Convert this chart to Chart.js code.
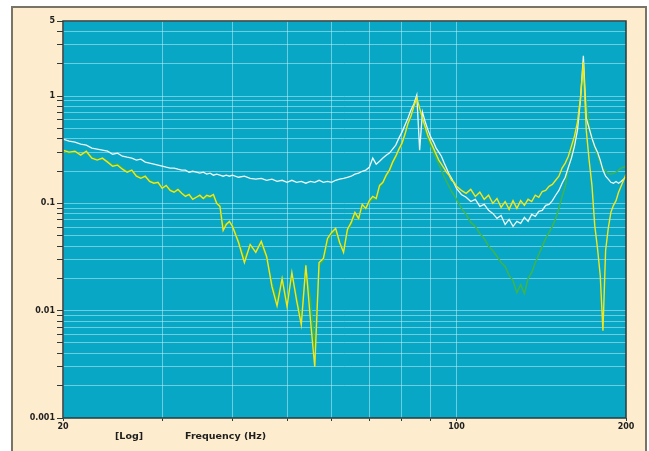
<!DOCTYPE html>
<html>
<head>
<meta charset="utf-8">
<script src="https://cdn.jsdelivr.net/npm/chart.js@4"></script>
<style>
  html, body { margin: 0; padding: 0; background: #fff; }
  #wrap { position: relative; width: 649px; height: 451px; overflow: hidden; }
  #frame { position: absolute; left: 11px; top: 6px; width: 632px; height: 460px; background: #fdeccd; border: 2px solid #7a7468; }
  #chart { position: absolute; left: 0; top: 0; }
</style>
</head>
<body>
<div id="wrap">
  <div id="frame"></div>
  <canvas id="chart" width="649" height="451"></canvas>
</div>
<script>
// frequency axis (Hz), shared by the three traces
const freqHz = [
  20, 20.5, 21, 21.5, 22, 22.5, 23, 23.5, 24, 24.5,
  25, 25.5, 26, 26.5, 27, 27.5, 28, 28.5, 29, 29.5,
  30, 30.5, 31, 31.5, 32, 32.5, 33, 33.5, 34, 34.5,
  35, 35.5, 36, 36.5, 37, 37.5, 38, 38.5, 39, 39.5,
  40, 41, 42, 43, 44, 45, 46, 47, 48, 49,
  50, 51, 52, 53, 54, 55, 56, 57, 58, 59,
  60, 61, 62, 63, 64, 65, 66, 67, 68, 69,
  70, 71, 72, 73, 74, 75, 76, 77, 78, 79,
  80, 81, 82, 83, 84, 85, 86, 87, 88, 89,
  90, 91, 92, 93, 94, 95, 96, 97, 98, 99,
  100, 102, 104, 106, 108, 110, 112, 114, 116, 118,
  120, 122, 124, 126, 128, 130, 132, 134, 136, 138,
  140, 142, 144, 146, 148, 150, 152, 154, 156, 158,
  160, 162, 164, 166, 168, 170, 172, 174, 176, 178,
  180, 182, 184, 186, 188, 190, 192, 194, 196, 198,
  200
];

const whiteAmp = [
  0.397, 0.380, 0.372, 0.356, 0.349, 0.327, 0.320, 0.313, 0.306, 0.287,
  0.294, 0.275, 0.269, 0.264, 0.253, 0.258, 0.242, 0.237, 0.232, 0.227,
  0.222, 0.217, 0.213, 0.213, 0.208, 0.204, 0.204, 0.195, 0.199, 0.195,
  0.191, 0.195, 0.187, 0.191, 0.183, 0.187, 0.183, 0.179, 0.183, 0.179,
  0.183, 0.175, 0.179, 0.171, 0.168, 0.171, 0.164, 0.168, 0.160, 0.164,
  0.157, 0.164, 0.157, 0.160, 0.154, 0.160, 0.157, 0.164, 0.157, 0.160,
  0.157, 0.164, 0.168, 0.171, 0.175, 0.179, 0.187, 0.191, 0.199, 0.204,
  0.217, 0.264, 0.232, 0.247, 0.264, 0.281, 0.294, 0.320, 0.349, 0.405,
  0.461, 0.536, 0.623, 0.740, 0.842, 1.02, 0.313, 0.709, 0.572, 0.481,
  0.414, 0.372, 0.327, 0.300, 0.275, 0.240, 0.212, 0.187, 0.171, 0.154,
  0.138, 0.121, 0.114, 0.104, 0.109, 0.0937, 0.0979, 0.086, 0.0806, 0.0724,
  0.0772, 0.0636, 0.0709, 0.061, 0.0679, 0.065, 0.074, 0.0679, 0.0789, 0.0756,
  0.0842, 0.086, 0.0958, 0.0979, 0.106, 0.119, 0.132, 0.154, 0.175, 0.217,
  0.264, 0.341, 0.481, 0.917, 2.37, 0.623, 0.502, 0.405, 0.341, 0.300,
  0.253, 0.204, 0.179, 0.168, 0.157, 0.154, 0.160, 0.154, 0.160, 0.168,
  0.175
];

const yellowAmp = [
  0.313, 0.300, 0.306, 0.281, 0.306, 0.264, 0.253, 0.264, 0.242, 0.222,
  0.227, 0.208, 0.195, 0.204, 0.179, 0.171, 0.179, 0.160, 0.154, 0.157,
  0.138, 0.147, 0.132, 0.127, 0.135, 0.124, 0.116, 0.121, 0.109, 0.114,
  0.119, 0.111, 0.119, 0.116, 0.121, 0.100, 0.0937, 0.0559, 0.0636, 0.0679,
  0.061, 0.0432, 0.0281, 0.0414, 0.0349, 0.0442, 0.032, 0.0168, 0.0111, 0.0199,
  0.0109, 0.0227, 0.0124, 0.0074, 0.0264, 0.0084, 0.0030, 0.0281, 0.0306, 0.0471,
  0.0536, 0.0584, 0.0432, 0.0349, 0.0572, 0.0664, 0.0824, 0.0724, 0.0979, 0.0898,
  0.106, 0.116, 0.111, 0.147, 0.157, 0.183, 0.204, 0.242, 0.275, 0.320,
  0.364, 0.442, 0.559, 0.650, 0.806, 0.958, 0.772, 0.623, 0.513, 0.423,
  0.372, 0.327, 0.287, 0.253, 0.232, 0.213, 0.195, 0.183, 0.164, 0.157,
  0.144, 0.132, 0.124, 0.135, 0.116, 0.127, 0.109, 0.119, 0.100, 0.111,
  0.0917, 0.104, 0.0879, 0.106, 0.0898, 0.106, 0.0958, 0.109, 0.104, 0.119,
  0.114, 0.129, 0.132, 0.144, 0.150, 0.164, 0.179, 0.213, 0.237, 0.275,
  0.341, 0.423, 0.572, 0.958, 2.08, 0.481, 0.253, 0.147, 0.0623, 0.038,
  0.0213, 0.0065, 0.0364, 0.0584, 0.0824, 0.0958, 0.106, 0.127, 0.144, 0.164,
  0.187
];

const greenAmp = [
  0.306, 0.294, 0.300, 0.287, 0.294, 0.269, 0.258, 0.258, 0.247, 0.227,
  0.232, 0.213, 0.199, 0.199, 0.183, 0.175, 0.175, 0.164, 0.157, 0.154,
  0.141, 0.144, 0.135, 0.129, 0.132, 0.124, 0.119, 0.119, 0.111, 0.114,
  0.116, 0.111, 0.114, 0.114, 0.116, 0.102, 0.0958, 0.061, 0.065, 0.0664,
  0.0623, 0.0451, 0.0306, 0.0397, 0.0356, 0.0423, 0.0306, 0.0183, 0.0124, 0.0199,
  0.0121, 0.0213, 0.0135, 0.0083, 0.0247, 0.0129, 0.0045, 0.0264, 0.0294, 0.0442,
  0.0524, 0.0548, 0.0423, 0.0364, 0.0548, 0.0636, 0.0789, 0.0709, 0.0938, 0.0898,
  0.102, 0.111, 0.109, 0.141, 0.154, 0.179, 0.199, 0.237, 0.269, 0.313,
  0.356, 0.432, 0.548, 0.636, 0.789, 0.938, 0.756, 0.597, 0.481, 0.405,
  0.341, 0.300, 0.264, 0.232, 0.204, 0.179, 0.160, 0.144, 0.129, 0.119,
  0.109, 0.0898, 0.0789, 0.0664, 0.061, 0.0524, 0.0471, 0.0397, 0.0364, 0.032,
  0.0281, 0.0258, 0.0213, 0.0191, 0.0147, 0.0175, 0.0144, 0.0199, 0.0227, 0.0281,
  0.0334, 0.0397, 0.0471, 0.0536, 0.061, 0.0724, 0.0898, 0.116, 0.144, 0.213,
  0.275, 0.388, 0.572, 0.917, 1.57, 0.879, 0.536, 0.405, 0.327, 0.281,
  0.237, 0.213, 0.199, 0.191, 0.187, 0.191, 0.195, 0.204, 0.213, 0.217,
  0.222
];

// axis ticks: every tick gets a grid line, only some get a label
const xTicks = [20, 30, 40, 50, 60, 70, 80, 90, 100, 200];
const xLabels = [20, 100, 200];
const yTicks = [
  0.001, 0.002, 0.003, 0.004, 0.005, 0.006, 0.007, 0.008, 0.009,
  0.01, 0.02, 0.03, 0.04, 0.05, 0.06, 0.07, 0.08, 0.09,
  0.1, 0.2, 0.3, 0.4, 0.5, 0.6, 0.7, 0.8, 0.9,
  1, 2, 3, 4, 5
];
const yLabels = [0.001, 0.01, 0.1, 1, 5];

const tickFont = { family: '"DejaVu Sans", Verdana, sans-serif', weight: 'bold', size: 8 };
const gridColor = 'rgba(190, 238, 246, 0.55)';

function series(values) {
  return freqHz.map((f, i) => ({ x: f, y: values[i] }));
}

// teal plot background + dark frame round the plot
const plotBox = {
  id: 'plotBox',
  beforeDraw(chart) {
    const { ctx, chartArea: a } = chart;
    ctx.save();
    ctx.fillStyle = '#08a7c5';
    ctx.fillRect(a.left, a.top, a.right - a.left, a.bottom - a.top);
    ctx.restore();
  },
  afterDraw(chart) {
    const { ctx, chartArea: a } = chart;
    ctx.save();
    ctx.strokeStyle = '#2d3a3c';
    ctx.lineWidth = 1.5;
    ctx.strokeRect(a.left, a.top, a.right - a.left, a.bottom - a.top);
    // axis caption under the plot
    ctx.fillStyle = '#1e1e1e';
    ctx.font = 'bold 9.5px "DejaVu Sans", Verdana, sans-serif';
    ctx.textBaseline = 'alphabetic';
    ctx.fillText('[Log]', a.left + 52, a.bottom + 21);
    ctx.fillText('Frequency (Hz)', a.left + 122, a.bottom + 21);
    ctx.restore();
  }
};

new Chart(document.getElementById('chart'), {
  type: 'line',
  data: {
    datasets: [
      { label: 'Trace 3', data: series(yellowAmp), borderColor: '#f1e71c', borderWidth: 1.4 },
      { label: 'Trace 1', data: series(whiteAmp), borderColor: '#eef8f6', borderWidth: 1.3 },
      { label: 'Trace 2', data: series(greenAmp), borderColor: '#3cb64a', borderWidth: 1.5 }
    ]
  },
  options: {
    responsive: false,
    devicePixelRatio: 1,
    animation: false,
    layout: { padding: { left: 0, top: 21, right: 23, bottom: 0 } },
    elements: { point: { radius: 0 }, line: { tension: 0 } },
    plugins: { legend: { display: false }, tooltip: { enabled: false } },
    scales: {
      x: {
        type: 'logarithmic',
        min: 20,
        max: 200,
        afterBuildTicks: s => { s.ticks = xTicks.map(v => ({ value: v })); },
        afterFit: s => { s.height = 33; },
        ticks: {
          autoSkip: false,
          maxRotation: 0,
          padding: 1,
          color: '#1e1e1e',
          font: tickFont,
          callback: v => xLabels.includes(v) ? String(v) : ''
        },
        grid: { color: gridColor, tickLength: 3, tickColor: '#2d3a3c' },
        border: { display: false }
      },
      y: {
        type: 'logarithmic',
        min: 0.001,
        max: 5,
        afterBuildTicks: s => { s.ticks = yTicks.map(v => ({ value: v })); },
        afterFit: s => { s.width = 63; },
        ticks: {
          autoSkip: false,
          padding: 2,
          color: '#1e1e1e',
          font: tickFont,
          callback: v => {
            const hit = yLabels.find(l => Math.abs(l - v) / l < 1e-6);
            return hit !== undefined ? String(hit) : '';
          }
        },
        grid: { color: gridColor, tickLength: 6, tickColor: '#2d3a3c' },
        border: { display: false }
      }
    }
  },
  plugins: [plotBox]
});
</script>
</body>
</html>
